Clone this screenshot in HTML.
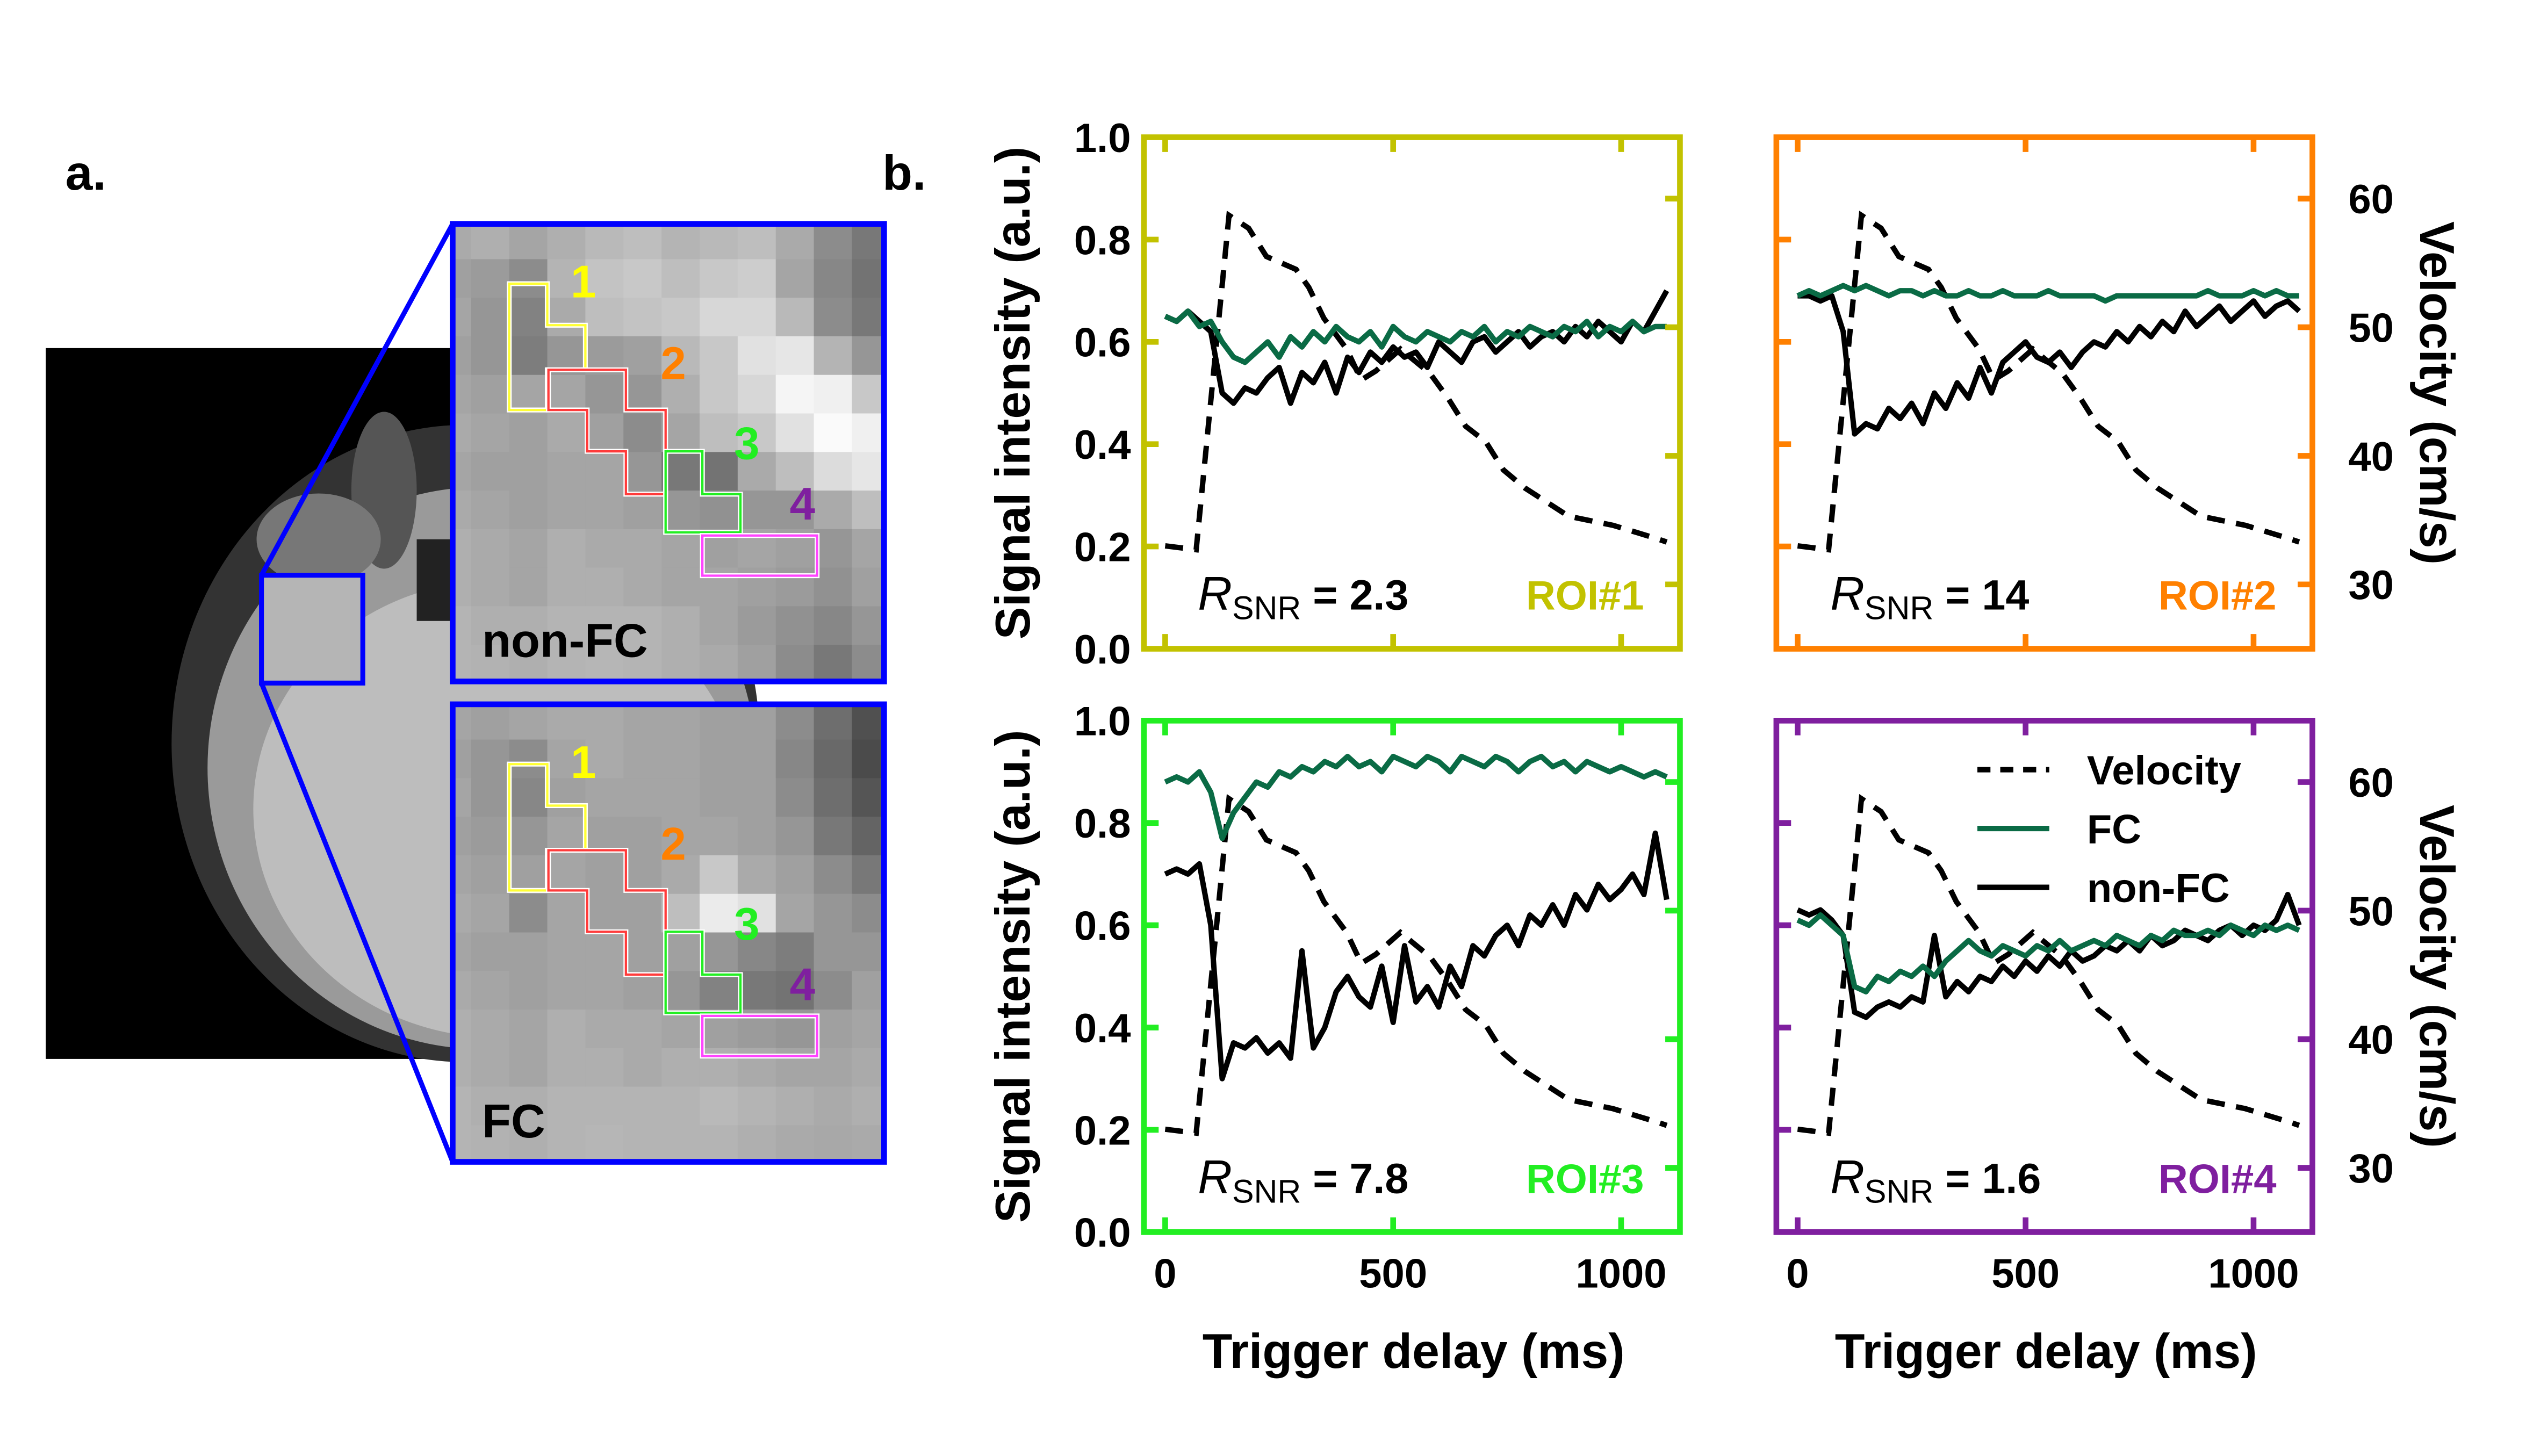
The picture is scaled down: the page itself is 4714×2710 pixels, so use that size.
<!DOCTYPE html>
<html><head><meta charset="utf-8"><style>
html,body{margin:0;padding:0;background:#fff}
svg{display:block}
text{font-family:"Liberation Sans",sans-serif;font-weight:bold}
</style></head><body>
<svg id="fig" width="4714" height="2710" viewBox="0 0 1550 891" preserveAspectRatio="none" xmlns="http://www.w3.org/2000/svg">
<rect width="1550" height="891" fill="#fff"/>
<text x="40" y="116" font-size="30">a.</text>
<text x="540" y="116" font-size="30">b.</text>
<g id="mri">
<rect x="28" y="213" width="408" height="435" fill="#000"/>
<ellipse cx="285" cy="455" rx="180" ry="195" fill="#333"/>
<ellipse cx="295" cy="470" rx="168" ry="172" fill="#9a9a9a"/>
<ellipse cx="305" cy="495" rx="150" ry="140" fill="#bdbdbd"/>
<ellipse cx="235" cy="300" rx="20" ry="48" fill="#555"/>
<ellipse cx="195" cy="330" rx="38" ry="28" fill="#777"/>
<rect x="255" y="330" width="40" height="50" fill="#222"/>
<rect x="160" y="352" width="62" height="66" fill="#b5b5b5" stroke="#0000ff" stroke-width="3"/>
<line x1="160" y1="352" x2="277" y2="137" stroke="#0000ff" stroke-width="3"/>
<line x1="160" y1="418" x2="277" y2="711" stroke="#0000ff" stroke-width="3"/>
</g>
<g id="insets"></g>
<g id="charts"></g>
</svg>
<script>
// ---- chart data ----
const times = [0,25,50,75,100,125,150,175,200,225,250,275,300,325,350,375,400,425,450,475,500,525,550,575,600,625,650,675,700,725,750,775,800,825,850,875,900,925,950,975,1000,1025,1050,1075,1100];
const velTimes = [0,68,140,183,222,287,315,348,398,430,462,516,581,620,659,703,742,789,885,982,1075,1100];
const velValues = [33.0,32.7,58.7,57.7,55.5,54.5,53.1,50.7,48.3,45.9,46.6,48.3,46.4,44.5,42.3,41.1,38.9,37.5,35.3,34.6,33.6,33.3];
const fc1 = [0.65,0.64,0.66,0.63,0.64,0.60,0.57,0.56,0.58,0.60,0.57,0.61,0.59,0.62,0.60,0.63,0.61,0.60,0.62,0.59,0.63,0.61,0.60,0.62,0.61,0.60,0.62,0.61,0.63,0.60,0.62,0.61,0.63,0.62,0.61,0.63,0.62,0.64,0.61,0.63,0.62,0.64,0.62,0.63,0.63];
const nfc1 = [0.65,0.64,0.66,0.64,0.62,0.50,0.48,0.51,0.50,0.53,0.55,0.48,0.54,0.52,0.56,0.50,0.57,0.54,0.58,0.56,0.59,0.57,0.58,0.55,0.60,0.58,0.56,0.60,0.61,0.58,0.60,0.62,0.59,0.61,0.62,0.60,0.63,0.61,0.64,0.62,0.60,0.64,0.62,0.66,0.70];
const fc2 = [0.69,0.70,0.69,0.70,0.71,0.70,0.71,0.70,0.69,0.70,0.70,0.69,0.70,0.69,0.69,0.70,0.69,0.69,0.70,0.69,0.69,0.69,0.70,0.69,0.69,0.69,0.69,0.68,0.69,0.69,0.69,0.69,0.69,0.69,0.69,0.69,0.70,0.69,0.69,0.69,0.70,0.69,0.70,0.69,0.69];
const nfc2 = [0.69,0.69,0.68,0.69,0.62,0.42,0.44,0.43,0.47,0.45,0.48,0.44,0.50,0.47,0.52,0.49,0.55,0.50,0.56,0.58,0.60,0.57,0.56,0.58,0.55,0.58,0.60,0.59,0.62,0.60,0.63,0.61,0.64,0.62,0.66,0.63,0.65,0.67,0.64,0.66,0.68,0.65,0.67,0.68,0.66];
const fc3 = [0.88,0.89,0.88,0.90,0.86,0.77,0.82,0.85,0.88,0.87,0.90,0.89,0.91,0.90,0.92,0.91,0.93,0.91,0.92,0.90,0.93,0.92,0.91,0.93,0.92,0.90,0.93,0.92,0.91,0.93,0.92,0.90,0.92,0.93,0.91,0.92,0.90,0.92,0.91,0.90,0.91,0.90,0.89,0.90,0.89];
const nfc3 = [0.70,0.71,0.70,0.72,0.60,0.30,0.37,0.36,0.38,0.35,0.37,0.34,0.55,0.36,0.40,0.47,0.50,0.46,0.44,0.52,0.41,0.56,0.45,0.48,0.44,0.52,0.48,0.56,0.54,0.58,0.60,0.56,0.62,0.60,0.64,0.60,0.66,0.63,0.68,0.65,0.67,0.70,0.66,0.78,0.65];
const fc4 = [0.61,0.60,0.62,0.60,0.58,0.48,0.47,0.50,0.49,0.51,0.50,0.52,0.50,0.53,0.55,0.57,0.55,0.54,0.56,0.55,0.54,0.56,0.55,0.57,0.55,0.56,0.57,0.56,0.58,0.57,0.56,0.58,0.57,0.59,0.58,0.58,0.59,0.58,0.60,0.59,0.58,0.60,0.59,0.60,0.59];
const nfc4 = [0.63,0.62,0.63,0.61,0.58,0.43,0.42,0.44,0.45,0.44,0.46,0.45,0.58,0.46,0.49,0.47,0.50,0.49,0.52,0.50,0.53,0.51,0.54,0.52,0.55,0.53,0.54,0.56,0.55,0.57,0.55,0.58,0.56,0.57,0.59,0.58,0.57,0.59,0.60,0.58,0.60,0.59,0.61,0.66,0.60];
const signalTicks = [0,0.2,0.4,0.6,0.8,1.0];
const signalTickLabels = ["0.0","0.2","0.4","0.6","0.8","1.0"];
const velTicks = [30,40,50,60];
const timeTicks = [0,500,1000];
const rsnrValues = ["2.3","14","7.8","1.6"];
const roiNames = ["ROI#1","ROI#2","ROI#3","ROI#4"];

const NS = "http://www.w3.org/2000/svg";
function mk(tag, attrs, parent){const e=document.createElementNS(NS,tag);for(const k in attrs)e.setAttribute(k,attrs[k]);parent.appendChild(e);return e;}

// ---- insets ----
const inset1Gray = [
[170,175,165,175,185,190,180,185,190,170,140,120],
[160,155,140,180,195,200,190,200,205,165,135,115],
[165,150,130,170,190,195,200,215,215,185,140,120],
[160,150,125,150,155,160,185,200,225,230,180,150],
[165,160,165,165,150,150,175,200,215,245,240,200],
[170,165,160,170,160,140,165,190,200,225,250,240],
[165,160,160,165,165,150,120,115,170,190,220,230],
[170,165,160,165,165,160,150,145,150,150,170,190],
[175,170,165,175,170,170,165,160,165,160,150,165],
[175,170,165,175,175,170,165,165,160,155,145,160],
[180,175,175,180,180,180,175,165,155,145,135,150],
[180,178,175,180,182,180,175,170,160,140,120,140]];
const inset2Gray = [
[165,160,165,170,170,165,165,160,160,140,110,80],
[160,150,140,165,170,165,165,160,160,135,105,75],
[165,150,135,160,165,165,165,160,160,140,110,85],
[160,155,150,165,160,160,165,165,160,150,120,100],
[165,160,160,165,160,160,170,200,170,160,140,120],
[170,165,140,165,160,160,190,235,225,165,150,140],
[165,160,160,165,165,160,160,150,135,125,150,150],
[170,165,160,165,165,160,150,130,120,115,140,160],
[175,170,165,175,170,170,165,160,155,150,160,165],
[175,170,165,175,175,170,175,175,170,165,165,170],
[180,175,175,180,180,180,180,185,180,175,170,175],
[180,178,175,180,182,180,180,180,175,170,168,170]];
const insetsG=document.getElementById('insets');
function drawInset(top, gray, label, name){
  const g=mk('g',{},insetsG);
  
  
  const cid='clip'+top;
  const cp=mk('clipPath',{id:cid},g);
  mk('rect',{x:277,y:top,width:264,height:280},cp);
  const cg=mk('g',{'clip-path':'url(#'+cid+')'},g);
  for(let r=0;r<12;r++)for(let c=0;c<12;c++){
    const v=gray[r][c];
    mk('rect',{x:265+c*23.3,y:top-2+r*23.6,width:23.8,height:24.1,fill:'rgb('+v+','+v+','+v+')'},cg);
  }
  const dy=top-137;
  const P=(pts)=>pts.map(p=>p[0]+','+(p[1]+dy)).join(' ');
  const rois=[
   ['#ffff33',[[311.6,173.6],[334.9,173.6],[334.9,199],[358.2,199],[358.2,226.3],[334.9,226.3],[334.9,250.9],[311.6,250.9]]],
   ['#ff3b3b',[[335.6,226.3],[383,226.3],[383,250.9],[407.3,250.9],[407.3,302.4],[383,302.4],[383,276.2],[359.3,276.2],[359.3,250.9],[335.6,250.9]]],
   ['#22ee22',[[407.3,276.2],[429.8,276.2],[429.8,302.4],[453.1,302.4],[453.1,325.8],[407.3,325.8]]],
   ['#ff44ff',[[429.8,327.7],[500,327.7],[500,352.3],[429.8,352.3]]]];
  rois.forEach((ro,i)=>{
    mk('polygon',{points:P(ro[1]),fill:'none',stroke:'#fff',"stroke-width":3},cg);
    const pg=mk('polygon',{points:P(ro[1]),fill:'none',stroke:ro[0],"stroke-width":1.4},cg);
    
    
  });
  const nums=[['1','#ffff00',357,182],['2','#ff8000',412,232],['3','#22ee22',457,281],['4','#7f1f9f',491,318]];
  nums.forEach(n=>{const t=mk('text',{x:n[2],y:n[3]+dy,'font-size':28,fill:n[1],'text-anchor':'middle'},g);t.textContent=n[0];
    
    });
  const lt=mk('text',{x:295,y:top+265,'font-size':29,fill:'#000'},g);lt.textContent=label;
  
  
  mk('rect',{x:277,y:top,width:264,height:280,fill:'none',stroke:'#0000ff','stroke-width':3.5},g);
}
drawInset(137,inset1Gray,'non-FC','non-fc-inset');
drawInset(431,inset2Gray,'FC','fc-inset');

// ---- charts ----
const charts=document.getElementById('charts');
const panels=[
 {x0:700,y0:84,color:'#c2c200',left:true,right:false,bottom:false,fc:fc1,nfc:nfc1},
 {x0:1087,y0:84,color:'#ff8000',left:false,right:true,bottom:false,fc:fc2,nfc:nfc2},
 {x0:700,y0:441,color:'#22ee22',left:true,right:false,bottom:true,fc:fc3,nfc:nfc3},
 {x0:1087,y0:441,color:'#7f1f9f',left:false,right:true,bottom:true,fc:fc4,nfc:nfc4}];
const W=328,H=313;
panels.forEach((p,i)=>{
  const g=mk('g',{},charts);
  
  
  const xs=t=>p.x0+13+t*0.279;
  const ys=s=>p.y0+H-s*H;
  const vs=v=>p.y0+H-(v-25)*7.87;
  const cid='pc'+i;
  const cp=mk('clipPath',{id:cid},g);
  mk('rect',{x:p.x0,y:p.y0,width:W,height:H},cp);
  const cg=mk('g',{'clip-path':'url(#'+cid+')'},g);
  const vel=mk('polyline',{points:velTimes.map((t,k)=>xs(t)+','+vs(velValues[k])).join(' '),fill:'none',stroke:'#000','stroke-width':3.3,'stroke-dasharray':'11,7'},cg);
  
  
  const nl=mk('polyline',{points:times.map((t,k)=>xs(t)+','+ys(p.nfc[k])).join(' '),fill:'none',stroke:'#000','stroke-width':3.3,'stroke-linejoin':'round'},cg);
  
  
  const fl=mk('polyline',{points:times.map((t,k)=>xs(t)+','+ys(p.fc[k])).join(' '),fill:'none',stroke:'#0a6b45','stroke-width':3.3,'stroke-linejoin':'round'},cg);
  
  
  const box=mk('rect',{x:p.x0,y:p.y0,width:W,height:H,fill:'none',stroke:p.color,'stroke-width':3.5},g);
  
  
  signalTicks.forEach((s,k)=>{
    if(k>0&&k<signalTicks.length-1) mk('line',{x1:p.x0,x2:p.x0+9,y1:ys(s),y2:ys(s),stroke:p.color,'stroke-width':3.5},g);
    if(p.left){const t=mk('text',{x:p.x0-8,y:ys(s)+9,'font-size':25,'text-anchor':'end'},g);t.textContent=signalTickLabels[k];
      
      }
  });
  velTicks.forEach(v=>{
    mk('line',{x1:p.x0+W-9,x2:p.x0+W,y1:vs(v),y2:vs(v),stroke:p.color,'stroke-width':3.5},g);
    if(p.right){const t=mk('text',{x:p.x0+W+22,y:vs(v)+9,'font-size':25},g);t.textContent=v;
      
      }
  });
  timeTicks.forEach(t=>{
    mk('line',{x1:xs(t),x2:xs(t),y1:p.y0,y2:p.y0+9,stroke:p.color,'stroke-width':3.5},g);
    mk('line',{x1:xs(t),x2:xs(t),y1:p.y0+H-9,y2:p.y0+H,stroke:p.color,'stroke-width':3.5},g);
    if(p.bottom){const tx=mk('text',{x:xs(t),y:p.y0+H+34,'font-size':25,'text-anchor':'middle'},g);tx.textContent=t;
      
      }
  });
  if(p.bottom){const tt=mk('text',{x:p.x0+165,y:p.y0+H+83,'font-size':30,'text-anchor':'middle'},g);tt.textContent='Trigger delay (ms)';
    
    }
  if(p.left){const yt=mk('text',{x:0,y:0,'font-size':30,'text-anchor':'middle',transform:'translate(630,'+(p.y0+H/2)+') rotate(-90)'},g);yt.textContent='Signal intensity (a.u.)';
    
    }
  if(p.right){const vt=mk('text',{x:0,y:0,'font-size':30,'text-anchor':'middle',transform:'translate(1481,'+(p.y0+H/2)+') rotate(90)'},g);vt.textContent='Velocity (cm/s)';
    
    }
  const rs=mk('text',{x:p.x0+33,y:p.y0+289,'font-size':26},g);
  
  
  const r1=mk('tspan',{'font-style':'italic','font-weight':'normal','font-size':29},rs);r1.textContent='R';
  const r2=mk('tspan',{'font-weight':'normal','font-size':20,dy:6},rs);r2.textContent='SNR';
  const r3=mk('tspan',{dy:-6},rs);r3.textContent=' = '+rsnrValues[i];
  const roi=mk('text',{x:p.x0+W-22,y:p.y0+289,'font-size':25,fill:p.color,'text-anchor':'end'},g);roi.textContent=roiNames[i];
  
  
});
const lg=mk('g',{},charts);


const legItems=[['Velocity','#000','8,6',471],['FC','#0a6b45','',507],['non-FC','#000','',543]];
legItems.forEach(it=>{
  const l=mk('line',{x1:1210,x2:1254,y1:it[3],y2:it[3],stroke:it[1],'stroke-width':3.3},lg);
  if(it[2])l.setAttribute('stroke-dasharray',it[2]);
  
  
  const t=mk('text',{x:1277,y:it[3]+9,'font-size':25},lg);t.textContent=it[0];
  
  
});
</script>
</body></html>
